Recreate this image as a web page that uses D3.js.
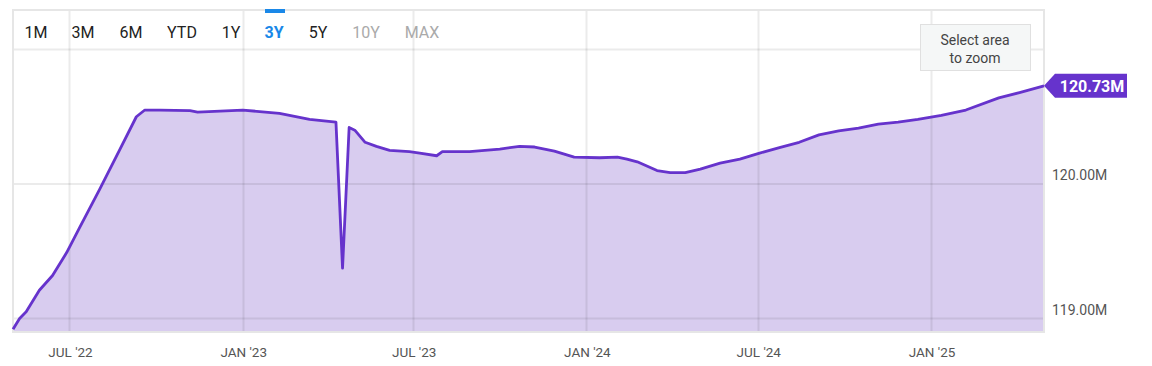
<!DOCTYPE html>
<html><head><meta charset="utf-8">
<script src="https://cdn.jsdelivr.net/npm/d3@7"></script>
<style>
html,body{margin:0;padding:0;background:#fff;}
svg{display:block;font-family:Roboto,"Noto Sans",sans-serif;}
</style></head>
<body>
<svg id="c" width="1152" height="366"></svg>
<script>
const dates = ["2022-05-02","2022-05-09","2022-05-16","2022-05-30","2022-06-13","2022-06-28","2022-07-12","2022-08-02","2022-08-23","2022-09-10","2022-09-19","2022-10-05","2022-11-06","2022-11-14","2023-01-01","2023-02-09","2023-03-13","2023-04-10","2023-04-17","2023-04-24","2023-04-30","2023-05-11","2023-05-23","2023-06-06","2023-06-27","2023-07-08","2023-07-26","2023-08-01","2023-08-30","2023-10-01","2023-10-22","2023-11-07","2023-11-28","2023-12-19","2024-01-15","2024-02-03","2024-02-13","2024-02-24","2024-03-16","2024-03-30","2024-04-15","2024-05-01","2024-05-22","2024-06-12","2024-07-03","2024-07-24","2024-08-14","2024-09-04","2024-09-25","2024-10-16","2024-11-06","2024-11-27","2024-12-18","2025-01-12","2025-02-07","2025-03-14","2025-04-05","2025-05-01"];
const values = [118.92,119.00,119.05,119.21,119.32,119.49,119.68,119.96,120.25,120.50,120.55,120.55,120.545,120.535,120.55,120.525,120.48,120.46,119.375,120.42,120.40,120.31,120.28,120.25,120.24,120.23,120.21,120.24,120.24,120.26,120.28,120.275,120.245,120.20,120.195,120.20,120.185,120.165,120.10,120.085,120.085,120.11,120.155,120.185,120.23,120.27,120.31,120.365,120.395,120.415,120.445,120.46,120.48,120.51,120.55,120.64,120.68,120.73];
const yTicks = [119, 120, 121];
const yTickLabels = ["119.00M", "120.00M", ""];
const xTickDates = ["2022-07-01","2023-01-01","2023-07-01","2024-01-01","2024-07-01","2025-01-01"];
const xTickLabels = ["JUL '22","JAN '23","JUL '23","JAN '24","JUL '24","JAN '25"];
const ranges = ["1M","3M","6M","YTD","1Y","3Y","5Y","10Y","MAX"];
const lastLabel = "120.73M";

const parse = d3.timeParse("%Y-%m-%d");
const data = dates.map((d,i)=>({date:parse(d), value:values[i]}));

const L=13, R=1044, T=10, B=332;
const x = d3.scaleTime().domain([parse("2022-05-02"), parse("2025-05-01")]).range([L, R]);
const y = d3.scaleLinear().domain([119, 120]).range([318.5, 184]);

const svg = d3.select("#c");

// area
const area = d3.area().x(d=>x(d.date)).y0(B).y1(d=>y(d.value)).curve(d3.curveLinear);
svg.append("path").datum(data).attr("d", area).attr("fill", "#d8ccef");

// grid
const g = svg.append("g");
g.selectAll("line.v").data(xTickDates).join("line")
  .attr("x1", d=>Math.round(x(parse(d)))+0.5).attr("x2", d=>Math.round(x(parse(d)))+0.5)
  .attr("y1", T).attr("y2", B)
  .attr("stroke", "rgba(0,0,0,0.08)").attr("stroke-width", 2);
g.selectAll("line.h").data(yTicks).join("line")
  .attr("x1", L).attr("x2", R)
  .attr("y1", d=>y(d)).attr("y2", d=>y(d))
  .attr("stroke", "rgba(0,0,0,0.08)").attr("stroke-width", 2);

// border
svg.append("rect").attr("x", L).attr("y", T).attr("width", R-L).attr("height", B-T)
  .attr("fill", "none").attr("stroke", "#e6e6e6").attr("stroke-width", 2);

// line
const line = d3.line().x(d=>x(d.date)).y(d=>y(d.value)).curve(d3.curveLinear);
svg.append("path").datum(data).attr("d", line).attr("fill", "none")
  .attr("stroke", "#6633cc").attr("stroke-width", 2.8).attr("stroke-linejoin", "round");

// x axis labels
svg.selectAll("text.x").data(xTickDates).join("text")
  .attr("x", d=>x(parse(d))+1).attr("y", 357).attr("text-anchor", "middle")
  .attr("font-size", 13.5).attr("fill", "#555")
  .text((d,i)=>xTickLabels[i]);

// y axis labels
svg.selectAll("text.y").data(yTicks).join("text")
  .attr("x", 1052).attr("y", d=>y(d)-4).attr("font-size", 14).attr("fill", "#555")
  .text((d,i)=>yTickLabels[i]);

// range buttons
const btnX = [36, 83, 131, 182, 231, 274, 318, 366, 422];
svg.selectAll("text.btn").data(ranges).join("text")
  .attr("x", (d,i)=>btnX[i]).attr("y", 38).attr("text-anchor", "middle")
  .attr("font-size", 16)
  .attr("font-weight", d=>d==="3Y" ? "bold" : "normal")
  .attr("fill", d=>d==="3Y" ? "#1a88e8" : (d==="10Y"||d==="MAX") ? "#aaa" : "#222")
  .text(d=>d);
svg.append("rect").attr("x", 265).attr("y", 9).attr("width", 20).attr("height", 4).attr("fill", "#1a88e8");

// select area box
svg.append("rect").attr("x", 920.5).attr("y", 24.5).attr("width", 110).attr("height", 46)
  .attr("fill", "#f5f7f7").attr("stroke", "#e0e0e0");
svg.append("text").attr("x", 975).attr("y", 45).attr("text-anchor", "middle")
  .attr("font-size", 14).attr("fill", "#444").text("Select area");
svg.append("text").attr("x", 975).attr("y", 63).attr("text-anchor", "middle")
  .attr("font-size", 14).attr("fill", "#444").text("to zoom");

// last value label
const last = data[data.length-1];
const ly = y(last.value);
const lx = x(last.date);
svg.append("path")
  .attr("d", `M${lx},${ly} L${lx+11},${ly-12} L${lx+83},${ly-12} L${lx+83},${ly+12} L${lx+11},${ly+12} Z`)
  .attr("fill", "#6633cc");
svg.append("text").attr("x", lx+48).attr("y", ly+6).attr("text-anchor", "middle")
  .attr("font-size", 16).attr("font-weight", "bold").attr("fill", "#fff").text(lastLabel);
</script>
</body></html>
